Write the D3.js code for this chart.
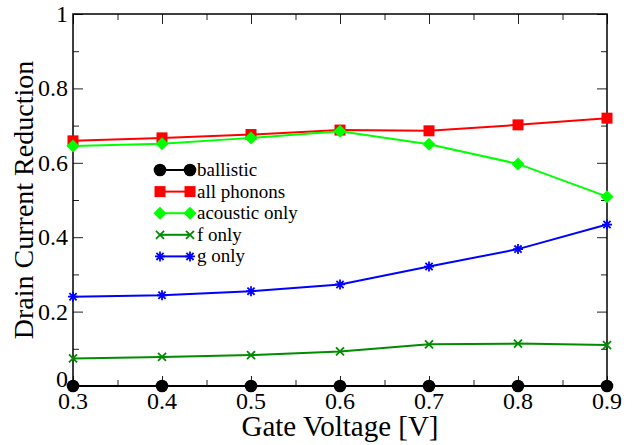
<!DOCTYPE html>
<html>
<head>
<meta charset="utf-8">
<script src="https://cdn.jsdelivr.net/npm/d3@7"></script>
<style>
  body { margin: 0; background: #fff; }
</style>
</head>
<body>
<div id="chart"></div>
<script>
// Gate voltage values (x) and the drain current reduction for each case
var voltages = [0.3, 0.4, 0.5, 0.6, 0.7, 0.8, 0.9];
var ballistic = [0, 0, 0, 0, 0, 0, 0];
var allPhonons = [0.659, 0.667, 0.676, 0.688, 0.686, 0.702, 0.720];
var acousticOnly = [0.645, 0.651, 0.667, 0.685, 0.650, 0.597, 0.509];
var fOnly = [0.074, 0.078, 0.083, 0.093, 0.112, 0.114, 0.110];
var gOnly = [0.240, 0.244, 0.255, 0.273, 0.321, 0.368, 0.434];

var xTicks = [0.3, 0.4, 0.5, 0.6, 0.7, 0.8, 0.9];
var yTicks = [0, 0.2, 0.4, 0.6, 0.8, 1];

var series = [
  { name: "ballistic", values: ballistic, color: "#000000", marker: "circle" },
  { name: "all phonons", values: allPhonons, color: "#ff0000", marker: "square" },
  { name: "acoustic only", values: acousticOnly, color: "#00ff00", marker: "diamond" },
  { name: "f only", values: fOnly, color: "#008b00", marker: "times" },
  { name: "g only", values: gOnly, color: "#0000ff", marker: "asterisk" }
];

var serif = "'Liberation Serif', 'Times New Roman', Times, 'DejaVu Serif', serif";

var svgWidth = 635;
var svgHeight = 445;
var margin = { top: 14, right: 28, bottom: 59, left: 73 };
var width = svgWidth - margin.left - margin.right;
var height = svgHeight - margin.top - margin.bottom;

var svg = d3.select("#chart")
  .append("svg")
  .attr("width", svgWidth)
  .attr("height", svgHeight)
  .attr("font-family", serif);

var chartGroup = svg.append("g")
  .attr("transform", `translate(${margin.left}, ${margin.top})`);

var xScale = d3.scaleLinear().domain([0.3, 0.9]).range([0, width]);
var yScale = d3.scaleLinear().domain([0, 1]).range([height, 0]);

// minor ticks halfway between the majors
var xMinor = d3.range(0.35, 0.9, 0.1);
var yMinor = d3.range(0.1, 1, 0.2);

function inwardTicks(axis, scale, vals, size) {
  return axis(scale).tickValues(vals).tickSize(-size).tickFormat("");
}

function styleAxis(g) {
  g.select(".domain").remove();
  g.selectAll(".tick line").attr("stroke", "#222").attr("stroke-width", 1);
}

// bottom + top ticks
chartGroup.append("g").attr("transform", `translate(0, ${height})`)
  .call(inwardTicks(d3.axisBottom, xScale, xTicks, 10)).call(styleAxis);
chartGroup.append("g").attr("transform", `translate(0, ${height})`)
  .call(inwardTicks(d3.axisBottom, xScale, xMinor, 6)).call(styleAxis);
chartGroup.append("g")
  .call(inwardTicks(d3.axisTop, xScale, xTicks, 10)).call(styleAxis);
chartGroup.append("g")
  .call(inwardTicks(d3.axisTop, xScale, xMinor, 6)).call(styleAxis);
// left + right ticks
chartGroup.append("g")
  .call(inwardTicks(d3.axisLeft, yScale, yTicks, 10)).call(styleAxis);
chartGroup.append("g")
  .call(inwardTicks(d3.axisLeft, yScale, yMinor, 6)).call(styleAxis);
chartGroup.append("g").attr("transform", `translate(${width}, 0)`)
  .call(inwardTicks(d3.axisRight, yScale, yTicks, 10)).call(styleAxis);
chartGroup.append("g").attr("transform", `translate(${width}, 0)`)
  .call(inwardTicks(d3.axisRight, yScale, yMinor, 6)).call(styleAxis);

// frame
chartGroup.append("rect")
  .attr("width", width)
  .attr("height", height)
  .attr("fill", "none")
  .attr("stroke", "#000")
  .attr("stroke-width", 1.5);

// tick labels
var tickFmt = d => d === 0 || d === 1 ? String(d) : d.toFixed(1);
chartGroup.selectAll(".xlab")
  .data(xTicks).enter().append("text")
  .attr("x", d => xScale(d))
  .attr("y", height + 23)
  .attr("text-anchor", "middle")
  .attr("font-size", "24px")
  .text(tickFmt);

chartGroup.selectAll(".ylab")
  .data(yTicks).enter().append("text")
  .attr("x", -5)
  .attr("y", d => yScale(d) + (d === 0 ? 1 : 8))
  .attr("text-anchor", "end")
  .attr("font-size", "24px")
  .text(tickFmt);

// marker shapes
function markerPath(type) {
  switch (type) {
    case "circle": return d3.symbol().type(d3.symbolCircle).size(Math.PI * 6.3 * 6.3)();
    case "square": return "M-5.5,-5.5H5.5V5.5H-5.5Z";
    case "diamond": return "M0,-6.5L6.5,0L0,6.5L-6.5,0Z";
    case "times": return "M-4,-4L4,4M-4,4L4,-4";
    case "asterisk": return "M-5,0H5M0,-5V5M-3.6,-3.6L3.6,3.6M-3.6,3.6L3.6,-3.6";
  }
}
function drawMarker(g, s) {
  var stroked = s.marker === "times" || s.marker === "asterisk";
  g.append("path")
    .attr("d", markerPath(s.marker))
    .attr("fill", stroked ? "none" : s.color)
    .attr("stroke", s.color)
    .attr("stroke-width", stroked ? 1.8 : 0);
}

var line = d3.line()
  .x((d, i) => xScale(voltages[i]))
  .y(d => yScale(d));

series.forEach(function (s) {
  var g = chartGroup.append("g");
  g.append("path")
    .attr("d", line(s.values))
    .attr("fill", "none")
    .attr("stroke", s.color)
    .attr("stroke-width", 2);
  s.values.forEach(function (v, i) {
    var m = g.append("g")
      .attr("transform", `translate(${xScale(voltages[i])}, ${yScale(v)})`);
    drawMarker(m, s);
  });
});

// legend
var legend = svg.append("g").attr("transform", "translate(160, 170)");
series.forEach(function (s, i) {
  var row = legend.append("g").attr("transform", `translate(0, ${i * 21.6})`);
  row.append("line")
    .attr("x1", 0).attr("x2", 30)
    .attr("stroke", s.color).attr("stroke-width", 2);
  drawMarker(row.append("g"), s);
  drawMarker(row.append("g").attr("transform", "translate(30, 0)"), s);
  row.append("text")
    .attr("x", 37)
    .attr("y", 6)
    .attr("font-size", "19px")
    .text(s.name);
});

// axis titles
svg.append("text")
  .attr("x", margin.left + width / 2)
  .attr("y", 436)
  .attr("text-anchor", "middle")
  .attr("font-size", "29px")
  .text("Gate Voltage [V]");

svg.append("text")
  .attr("transform", `translate(33, ${margin.top + height / 2}) rotate(-90)`)
  .attr("text-anchor", "middle")
  .attr("font-size", "28px")
  .text("Drain Current Reduction");
</script>
</body>
</html>
